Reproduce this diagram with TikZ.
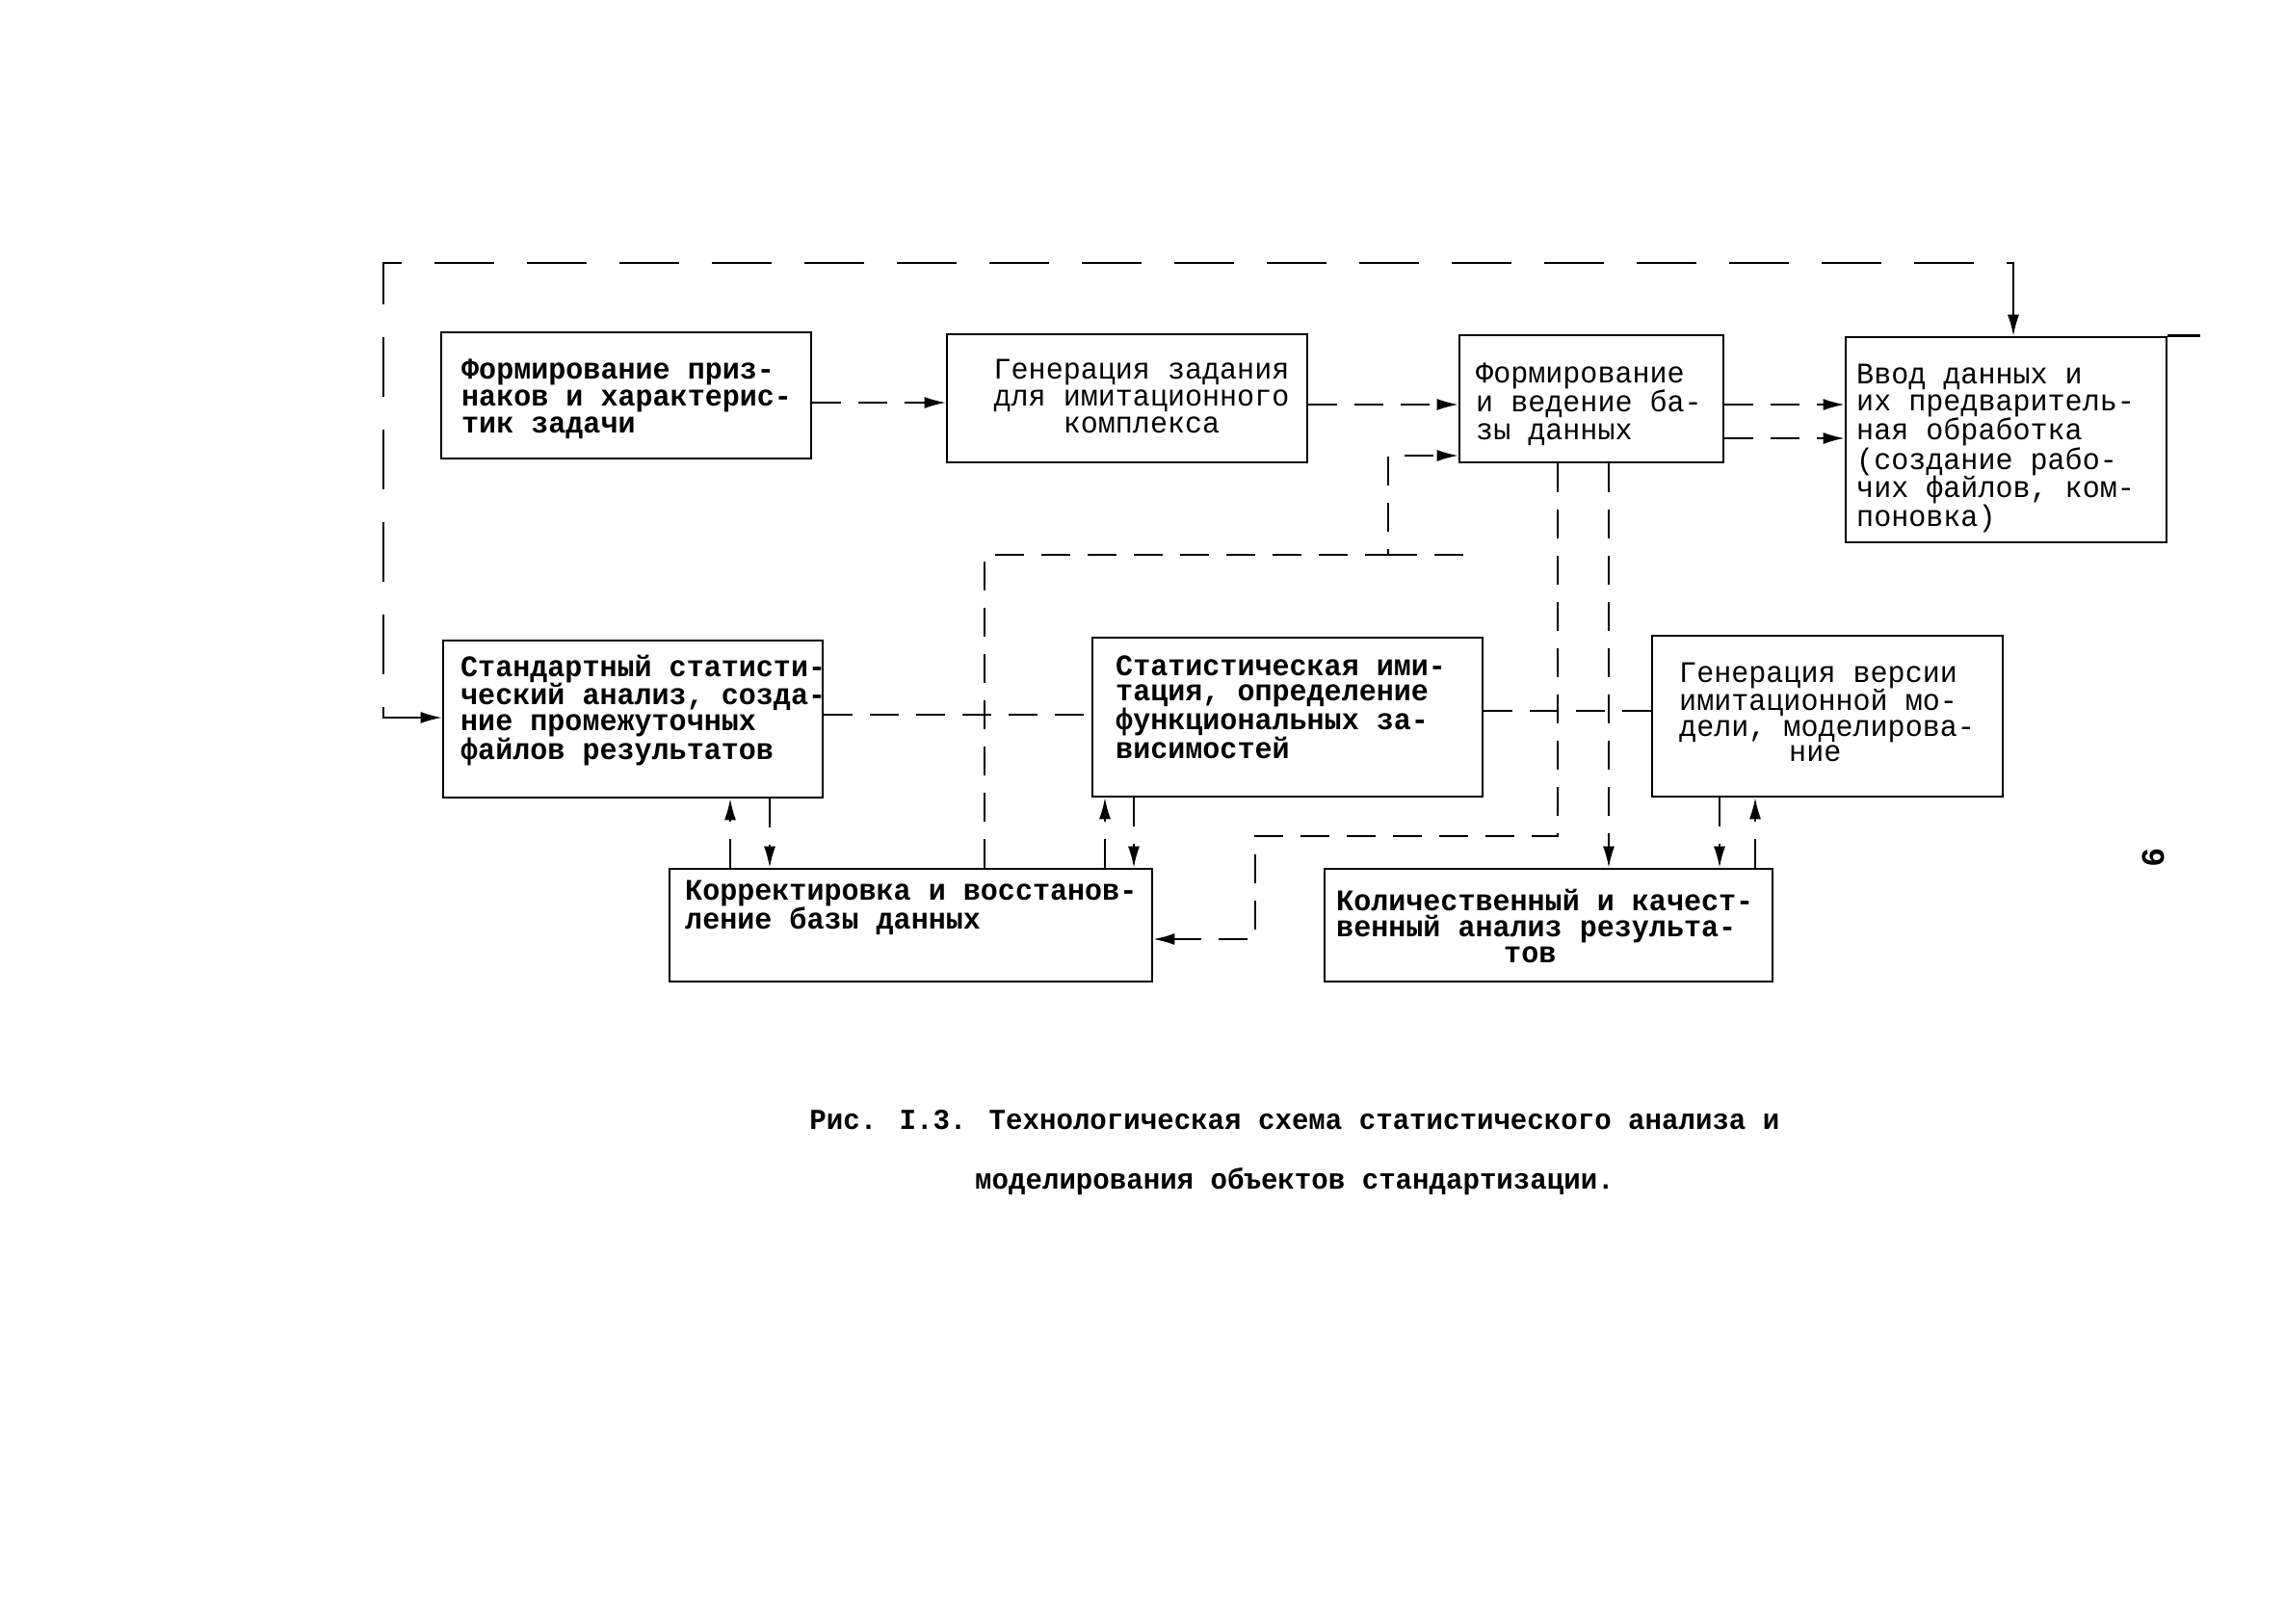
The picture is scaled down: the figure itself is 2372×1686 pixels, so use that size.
\documentclass[tikz,border=0pt]{standalone}
\usepackage{fontspec}
\newfontfamily\tw[FakeStretch=0.97]{Liberation Mono}
\usetikzlibrary{arrows.meta,calc}
\newcommand{\myst}{\rule{0pt}{26pt}}
\newcommand{\tf}[1]{\tw\fontsize{31pt}{#1pt}\selectfont}
\begin{document}
\begin{tikzpicture}[x=1pt,y=-1pt,
  boxn/.style={draw, line width=2.6pt, inner sep=0pt},
  txt/.style={inner sep=0pt, anchor=north west, align=left},
  conn/.style={line width=1.8pt, dash pattern=on 30pt off 18pt},
  longdash/.style={line width=1.8pt, dash pattern=on 62pt off 34pt},
  arr/.style={-{Latex[length=22pt,width=12pt]}},
  barr/.style={{Latex[length=22pt,width=12pt]}-{Latex[length=22pt,width=12pt]}}]
\fill[white] (0,0) rectangle (2372,1686);
\useasboundingbox (0,0) rectangle (2372,1686);

% boxes
\node[boxn, minimum width=384, minimum height=131] (A) at (650,410.5) {};
\node[boxn, minimum width=374, minimum height=133] (B) at (1170,413.5) {};
\node[boxn, minimum width=274, minimum height=132] (C) at (1652,414) {};
\node[boxn, minimum width=333, minimum height=213] (D) at (2082.5,456.5) {};
\node[boxn, minimum width=394, minimum height=163] (F) at (657,746.5) {};
\node[boxn, minimum width=405, minimum height=165] (G) at (1336.5,744.5) {};
\node[boxn, minimum width=364, minimum height=167] (H) at (1897,743.5) {};
\node[boxn, minimum width=501, minimum height=117] (E) at (945.5,960.5) {};
\node[boxn, minimum width=465, minimum height=117] (I) at (1607.5,960.5) {};
\draw[line width=2.6pt] (D.north east) -- ++(34,0);

% texts
\node[txt, font=\tf{28}\bfseries] (At) at (479,367) {\myst Формирование приз-\\наков и характерис-\\тик задачи};
\node[txt, anchor=north, align=center, font=\tf{28}] (Bt) at (1185,367) {\myst Генерация задания\\для имитационного\\комплекса};
\node[txt, font=\tf{29}] (Ct) at (1532,371) {\myst Формирование\\и ведение ба-\\зы данных};
\node[txt, font=\tf{28.5}] (Dt) at (1927,372) {\myst Ввод данных и\\их предваритель-\\ная обработка\\(создание рабо-\\чих файлов, ком-\\поновка)};
\node[txt, font=\tf{26.3}\bfseries] (Ft) at (478,676) {\myst Стандартный статисти-\\ческий анализ, созда-\\ние промежуточных\\файлов результатов};
\node[txt, font=\tf{26.3}\bfseries] (Gt) at (1158,675) {\myst Статистическая ими-\\тация, определение\\функциональных за-\\висимостей};
\node[txt, font=\tf{26.5}] (Ht) at (1743,682) {\myst Генерация версии\\имитационной мо-\\дели, моделирова-\\\hspace*{114pt}ние};
\node[txt, font=\tf{26.3}\bfseries] (Et) at (711,908) {\myst Корректировка и восстанов-\\ление базы данных};
\node[txt, font=\tf{27}\bfseries] (It) at (1387,919) {\myst Количественный и качест-\\венный анализ результа-\\\hspace*{174pt}тов};

% caption and page number
\node[txt, anchor=north, align=center, font=\tw\bfseries\fontsize{30pt}{62pt}\selectfont] (cap) at (1344,1146) {\myst Рис. I.3. Технологическая схема статистического анализа и\\моделирования объектов стандартизации.};
\node[rotate=-90, inner sep=0pt, font=\tw\bfseries\fontsize{34pt}{34pt}\selectfont] (pg) at (2235,890) {9};

% top row connectors
\draw[conn, arr] (A.east |- 0,418) -- (B.west |- 0,418);
\draw[conn, arr] (B.east |- 0,420) -- (C.west |- 0,420);
\draw[conn, arr] (C.east |- 0,420) -- (D.west |- 0,420);
\draw[conn, arr] (C.east |- 0,455) -- (D.west |- 0,455);

% big loop D <-> F
\draw[longdash, barr] (D.north -| 2090,0) -- (2090,273) -- (398,273) -- (398,745) -- (F.west |- 0,745);

% middle row lines
\draw[conn] (F.east |- 0,742) -- (G.west |- 0,742);
\draw[conn] (G.east |- 0,738) -- (H.west |- 0,738);

% E -> C
\coordinate (j1) at (1441,576);
\draw[conn, arr] (E.north -| 1022,0) -- (1022,576) -- (j1) -- (1441,473) -- (C.west |- 0,473);
\draw[conn] (j1) -- (1520,576);

% C -> E and C -> I
\draw[conn, arr] (C.south -| 1617,0) -- (1617,868) -- (1303,868) -- (1303,975) -- (E.east |- 0,975);
\draw[conn, arr] (C.south -| 1670,0) -- (I.north -| 1670,0);

% vertical pairs
\draw[conn, arr] (E.north -| 758,0) -- (F.south -| 758,0);
\draw[conn, arr] (F.south -| 799,0) -- (E.north -| 799,0);
\draw[conn, arr] (E.north -| 1147,0) -- (G.south -| 1147,0);
\draw[conn, arr] (G.south -| 1177,0) -- (E.north -| 1177,0);
\draw[conn, arr] (H.south -| 1785,0) -- (I.north -| 1785,0);
\draw[conn, arr] (I.north -| 1822,0) -- (H.south -| 1822,0);
\end{tikzpicture}
\end{document}
